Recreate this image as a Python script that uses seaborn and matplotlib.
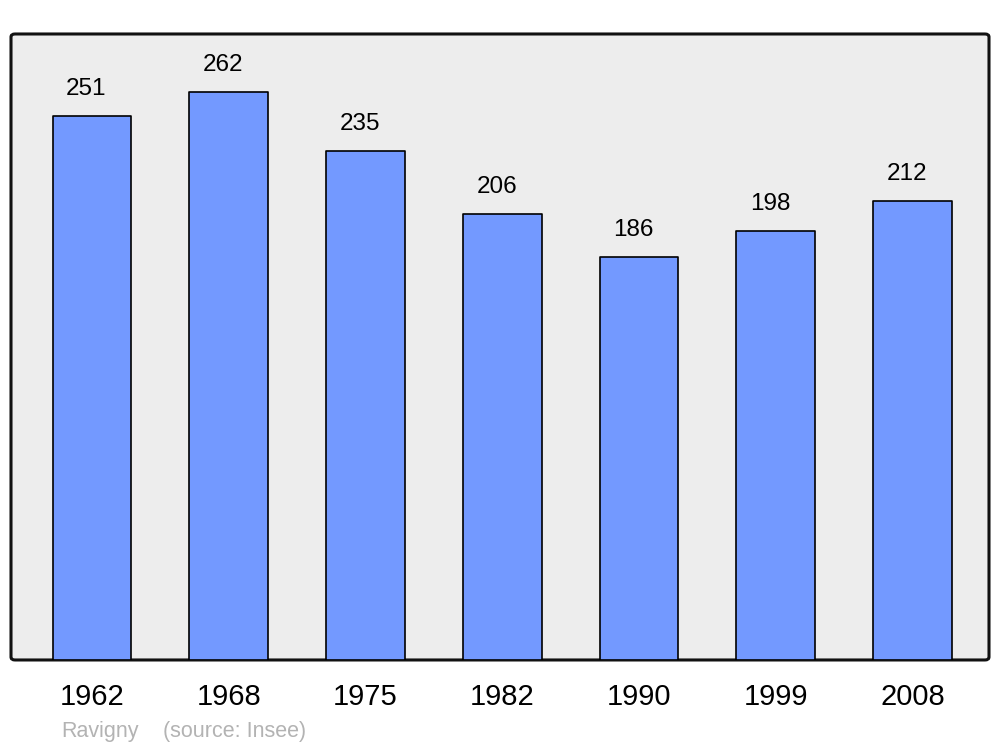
import matplotlib
matplotlib.use("Agg")
import matplotlib.pyplot as plt
import seaborn as sns
import pandas as pd
from matplotlib.patches import FancyBboxPatch

years = ["1962", "1968", "1975", "1982", "1990", "1999", "2008"]
population = [251, 262, 235, 206, 186, 198, 212]
commune = "Ravigny"
source = "(source: Insee)"

sns.set_theme(style="white")
plt.rcParams["font.family"] = ["Liberation Sans", "DejaVu Sans"]

df = pd.DataFrame({"year": years, "pop": population})

fig = plt.figure(figsize=(10, 7.47), dpi=100)
ax = fig.add_axes([0.011, 0.1165, 0.978, 0.838])
ax.set_facecolor("none")
ax.set_zorder(2)

# rounded frame background
frame = FancyBboxPatch((0.011, 0.1165), 0.978, 0.838,
                       boxstyle="round,pad=0,rounding_size=0.004",
                       transform=fig.transFigure, facecolor="#EDEDED",
                       edgecolor="#111111", linewidth=2.2, zorder=-1)
fig.patches.append(frame)

sns.barplot(data=df, x="year", y="pop", color="#7399FF", width=0.575,
            saturation=1, edgecolor="black", linewidth=1.2, ax=ax, zorder=2)
for p in ax.patches:
    p.set_joinstyle("round")

for i, v in enumerate(population):
    ax.annotate(str(v), (i, v), xytext=(-4.0, 19.5), textcoords="offset points",
                ha="center", va="center", fontsize=17.5, color="black")

ax.set_xlim(-0.592, 6.559)
ax.set_ylim(0, 289)
ax.set_yticks([])
ax.set_xlabel("")
ax.set_ylabel("")
for s in ax.spines.values():
    s.set_visible(False)
ax.tick_params(axis="x", length=0, pad=16.5, labelsize=21, labelcolor="black")

fig.text(0.061, 1 - 732 / 747, commune, fontsize=15.5, color="#B3B3B3", va="center")
fig.text(0.163, 1 - 732 / 747, source, fontsize=15.5, color="#B3B3B3", va="center")

fig.savefig("out.png", dpi=100)
